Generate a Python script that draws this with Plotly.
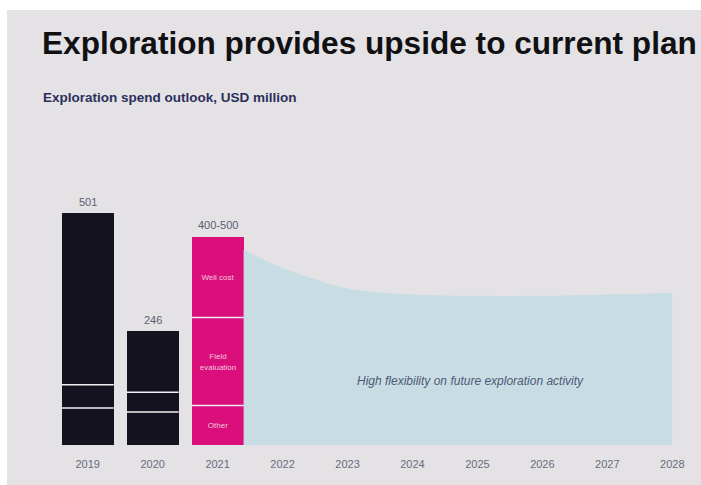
import plotly.graph_objects as go

# ---- data ----
years = [2019, 2020, 2021, 2022, 2023, 2024, 2025, 2026, 2027, 2028]
tick_labels = [str(y) for y in years]

bar_years = [2019, 2020]
hist_other = [80, 71]
hist_mid = [50, 43]
hist_top = [371, 132]
hist_labels = ["501", "246"]

plan_year = [2021]
plan_other = [85]
plan_field = [190]
plan_well = [175]
plan_label = "400-500"
plan_segment_names = ["Other", "Field<br>evaluation", "Well cost"]

outlook_x = [2021.4, 2022, 2023, 2024, 2025, 2026, 2027, 2028]
outlook_y = [421, 382, 338, 325, 322, 322, 325, 328]

BG = "#e4e2e5"
BLACK = "#15121f"
MAGENTA = "#da0f7b"
LIGHTBLUE = "#c8dde3"
BARW = 0.8

L, R, T, B = 52, 19, 167, 40
PW, PH = 701 - L - R, 485 - T - B
BASE = 485 - B  # baseline pixel row


def px_x(p):
    return (p - L) / PW


def px_y(p):
    return (BASE - p) / PH


fig = go.Figure()

# flexible outlook area
fig.add_trace(go.Scatter(
    x=outlook_x, y=outlook_y, mode="lines", fill="tozeroy",
    line=dict(color=LIGHTBLUE, width=0, shape="spline", smoothing=0.8),
    fillcolor=LIGHTBLUE, hoverinfo="skip", showlegend=False))

# historical stacked bars
for vals in (hist_other, hist_mid, hist_top):
    fig.add_trace(go.Bar(x=bar_years, y=vals, width=BARW,
                         marker=dict(color=BLACK, line=dict(width=0)),
                         showlegend=False))

# 2021 plan stacked bar
for vals, name in zip((plan_other, plan_field, plan_well), plan_segment_names):
    fig.add_trace(go.Bar(x=plan_year, y=vals, width=BARW,
                         marker=dict(color=MAGENTA, line=dict(width=0)),
                         text=[name], textposition="inside",
                         insidetextanchor="middle",
                         textfont=dict(color="#f4c6dc", size=8, family="Liberation Sans"),
                         showlegend=False))

# white separators between segments (derived from cumulative data)
sep_x, sep_y = [], []
for i, yr in enumerate(bar_years):
    c1 = hist_other[i]
    c2 = hist_other[i] + hist_mid[i]
    for c in (c1, c2):
        sep_x += [yr - BARW / 2, yr + BARW / 2, None]
        sep_y += [c, c, None]
for i, yr in enumerate(plan_year):
    c1 = plan_other[i]
    c2 = plan_other[i] + plan_field[i]
    for c in (c1, c2):
        sep_x += [yr - BARW / 2, yr + BARW / 2, None]
        sep_y += [c, c, None]
fig.add_trace(go.Scatter(x=sep_x, y=sep_y, mode="lines",
                         line=dict(color="#f2eef2", width=1.5),
                         hoverinfo="skip", showlegend=False))

# value labels above bars
totals = [a + b + c for a, b, c in zip(hist_other, hist_mid, hist_top)]
for yr, t, lab in zip(bar_years, totals, hist_labels):
    fig.add_annotation(x=yr, y=t, text=lab, showarrow=False, yanchor="bottom",
                       yshift=3, font=dict(size=11, color="#5a5f70",
                                           family="Liberation Sans"))
plan_total = plan_other[0] + plan_field[0] + plan_well[0]
fig.add_annotation(x=plan_year[0], y=plan_total, text=plan_label, showarrow=False,
                   yanchor="bottom", yshift=4,
                   font=dict(size=11, color="#5a5f70", family="Liberation Sans"))

fig.add_annotation(x=2024.9, y=138, text="<i>High flexibility on future exploration activity</i>",
                   showarrow=False, font=dict(size=12, color="#4f5878",
                                              family="Liberation Sans"))

# title & subtitle
fig.add_annotation(xref="paper", yref="paper", x=px_x(40), y=px_y(43),
                   xanchor="left", yanchor="middle",
                   text="<b>Exploration provides upside to current plan</b>",
                   showarrow=False,
                   font=dict(size=31.6, color="#111114", family="Liberation Sans"))
fig.add_annotation(xref="paper", yref="paper", x=px_x(41), y=px_y(97),
                   xanchor="left", yanchor="middle",
                   text="<b>Exploration spend outlook, USD million</b>",
                   showarrow=False,
                   font=dict(size=13.5, color="#2c2f5c", family="Liberation Sans"))

# white strips of the photo (top and left edges)
fig.add_shape(type="rect", xref="paper", yref="paper", layer="below",
              x0=px_x(-5), x1=px_x(720), y0=px_y(10), y1=px_y(-5),
              fillcolor="white", line=dict(width=0))
fig.add_shape(type="rect", xref="paper", yref="paper", layer="below",
              x0=px_x(-5), x1=px_x(7), y0=px_y(500), y1=px_y(-5),
              fillcolor="white", line=dict(width=0))

fig.update_layout(
    width=701, height=485,
    margin=dict(l=L, r=R, t=T, b=B),
    paper_bgcolor=BG, plot_bgcolor="rgba(0,0,0,0)",
    barmode="stack", bargap=0,
    showlegend=False,
    xaxis=dict(range=[2018.45, 2028.15], tickvals=years, ticktext=tick_labels,
               showgrid=False, zeroline=False, showline=False,
               ticks="outside", ticklen=9, tickcolor="rgba(0,0,0,0)",
               tickfont=dict(size=11, color="#676c7e", family="Liberation Sans")),
    yaxis=dict(range=[0, 600], visible=False, showgrid=False, zeroline=False),
)

fig.write_html("out.html", config={"displayModeBar": False},
               post_script="document.body.style.margin='0';"
                           "document.body.style.overflow='hidden';"
                           "document.body.style.background='" + BG + "';"
                           "document.documentElement.style.background='" + BG + "';")
